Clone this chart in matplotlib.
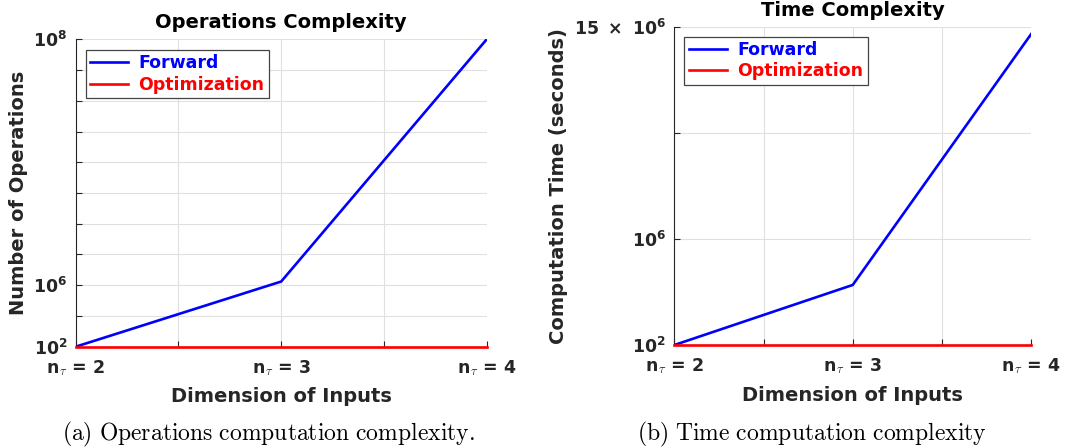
#!/usr/bin/env python3
"""Operations / time complexity of forward vs optimization (two panels)."""
import numpy as np
import matplotlib

matplotlib.use("Agg")
import matplotlib.pyplot as plt

# data (plotted on the figure's linear axis)
dims = [2, 3, 4]
dim_labels = ["2", "3", "4"]
ops_forward = [1e2, 2.12e7, 1e8]
ops_optim = [1e2, 1e2, 1e2]
time_forward = [1e2, 2.83e6, 14.65e6]
time_optim = [1e2, 1e2, 1e2]

ops_ticks = np.linspace(1e2, 1e8, 11)
ops_ticklabels = [r"$\mathbf{10^{2}}$", "", r"$\mathbf{10^{6}}$"] + [""] * 7 + [r"$\mathbf{10^{8}}$"]
time_ticks = np.linspace(1e2, 15e6, 4)
time_ticklabels = [r"$\mathbf{10^{2}}$", r"$\mathbf{10^{6}}$", "",
                   r"$\mathbf{15\ \times\ 10^{6}}$"]

AX_COL = "#262626"
plt.rcParams["font.family"] = "DejaVu Sans"
plt.rcParams["font.weight"] = "bold"


def panel(ax, fwd, opt, yticks, yticklabels, title, ylabel, legend_xy):
    ax.plot(dims, fwd, color="#0000ff", lw=1.9, label="Forward", zorder=3)
    ax.plot(dims, opt, color="#ff0000", lw=1.9, label="Optimization", zorder=3,
            clip_on=False)
    ax.set_xlim(2, 4)
    ax.set_ylim(yticks[0], yticks[-1])
    ax.set_xticks([2, 2.5, 3, 3.5, 4])
    ax.set_xticklabels([r"n$_{\tau}$ = " + dim_labels[0], "",
                        r"n$_{\tau}$ = " + dim_labels[1], "",
                        r"n$_{\tau}$ = " + dim_labels[2]])
    for t in ax.get_xticklabels():
        t.set_math_fontfamily("cm")
    ax.set_yticks(yticks)
    ax.set_yticklabels(yticklabels)
    ax.tick_params(direction="in", length=4, width=0.8, colors=AX_COL,
                   labelsize=12.5, pad=6)
    ax.tick_params(axis="x", pad=8)
    ax.grid(True, color="#e0e0e0", lw=0.8)
    ax.set_axisbelow(True)
    for s in ("top", "right"):
        ax.spines[s].set_visible(False)
    for s in ("left", "bottom"):
        ax.spines[s].set_color(AX_COL)
        ax.spines[s].set_linewidth(0.8)
    ax.set_title(title, fontsize=14, fontweight="bold", pad=8)
    ax.set_xlabel("Dimension of Inputs", fontsize=14, fontweight="bold",
                  color=AX_COL, labelpad=7)
    ax.set_ylabel(ylabel, fontsize=14, fontweight="bold", color=AX_COL)
    leg = ax.legend(loc="upper left", bbox_to_anchor=legend_xy, borderaxespad=0,
                    fancybox=False, edgecolor="#444444", framealpha=1,
                    fontsize=12.5, labelcolor="linecolor", handlelength=2.2,
                    handletextpad=0.6, borderpad=0.25, labelspacing=0.2)
    leg.get_frame().set_linewidth(0.9)
    for t in leg.get_texts():
        t.set_fontweight("bold")


fig = plt.figure(figsize=(10.84, 4.48), dpi=100)
axA = fig.add_axes([0.0698, 0.2261, 0.3792, 0.6862])
axB = fig.add_axes([0.6221, 0.2299, 0.3291, 0.7105])

panel(axA, ops_forward, ops_optim, ops_ticks, ops_ticklabels,
      "Operations Complexity", "Number of Operations", (0.024, 0.965))
panel(axB, time_forward, time_optim, time_ticks, time_ticklabels,
      "Time Complexity", "Computation Time (seconds)", (0.028, 0.969))

fig.text(0.248, 0.03, r"$\mathrm{(a)\ Operations\ computation\ complexity.}$",
         ha="center", va="center", fontsize=17, math_fontfamily="cm")
fig.text(0.749, 0.03, r"$\mathrm{(b)\ Time\ computation\ complexity}$",
         ha="center", va="center", fontsize=17, math_fontfamily="cm")

fig.savefig("out.png", dpi=100)
